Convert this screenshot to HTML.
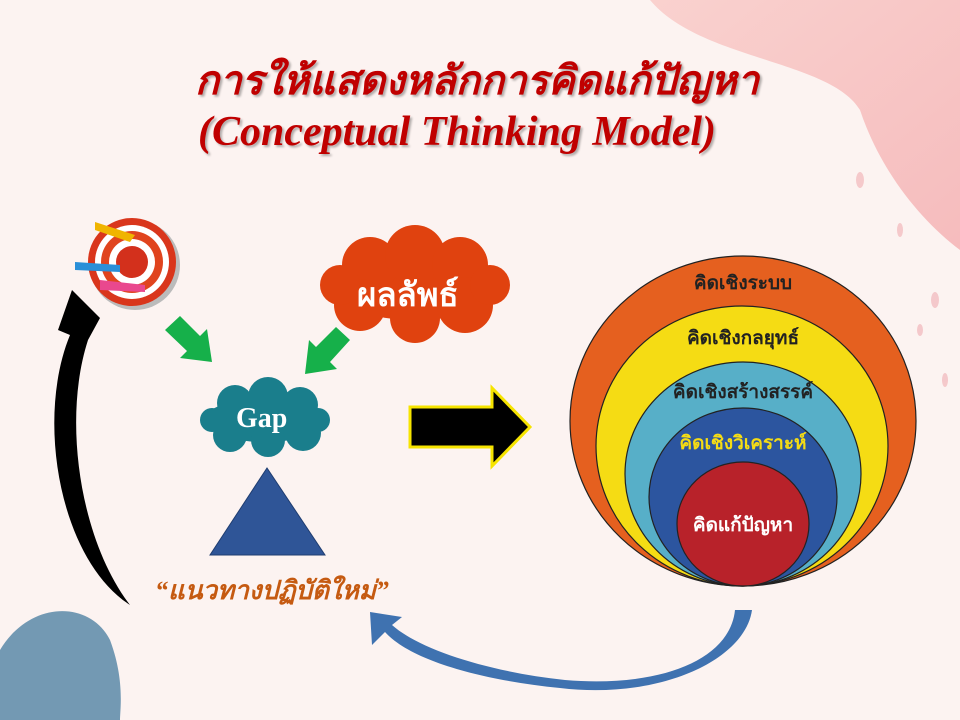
<!DOCTYPE html>
<html><head><meta charset="utf-8"><style>
html,body{margin:0;padding:0}
body{width:960px;height:720px;position:relative;overflow:hidden;background:#fcf3f1;font-family:"Liberation Serif","Noto Serif CJK SC",serif}
.t{position:absolute;white-space:nowrap}
</style></head><body>
<svg width="960" height="720" style="position:absolute;left:0;top:0">
<defs>
<linearGradient id="pk" x1="0" y1="0" x2="1" y2="1"><stop offset="0" stop-color="#f9c9c6"/><stop offset="1" stop-color="#f4aeb0"/></linearGradient>
</defs>
<path d="M650 0 L960 0 L960 250 C920 220 880 170 860 110 C830 60 700 60 650 0Z" fill="url(#pk)" opacity="0.8"/>
<path d="M0 650 C30 600 90 600 110 640 C125 680 120 710 120 720 L0 720Z" fill="#5a88a8" opacity="0.85"/>
<g fill="#f2b7bb" opacity="0.7">
<ellipse cx="860" cy="180" rx="4" ry="8"/><ellipse cx="900" cy="230" rx="3" ry="7"/><ellipse cx="935" cy="300" rx="4" ry="8"/><ellipse cx="945" cy="380" rx="3" ry="7"/><ellipse cx="920" cy="330" rx="3" ry="6"/>
</g>
<!-- target -->
<circle cx="135" cy="265" r="45" fill="#bbb"/>
<circle cx="132" cy="262" r="44" fill="#d9361c"/>
<circle cx="132" cy="262" r="37" fill="#fff"/>
<circle cx="132" cy="262" r="31" fill="#e0441e"/>
<circle cx="132" cy="262" r="23" fill="#fff"/>
<circle cx="132" cy="262" r="16" fill="#d3301c"/>
<path d="M95 222 L135 235 L130 242 L95 230Z" fill="#f0b400"/>
<path d="M75 262 L120 265 L120 272 L75 270Z" fill="#2a8fd8"/>
<path d="M100 280 L145 285 L145 292 L100 290Z" fill="#e9488e"/>
<!-- green arrows -->
<path d="M165 330 L180 316 L200 336 L207 329 L212 362 L180 358 L187 351Z" fill="#16b04a"/>
<path d="M350 340 L336 327 L316 347 L309 340 L305 374 L337 369 L330 362Z" fill="#16b04a"/>
<!-- clouds -->
<g fill="#e0420f">
<ellipse cx="415" cy="290" rx="80" ry="30"/><circle cx="370" cy="265" r="28"/><circle cx="415" cy="255" r="30"/><circle cx="460" cy="265" r="28"/><circle cx="360" cy="305" r="26"/><circle cx="415" cy="318" r="25"/><circle cx="465" cy="305" r="28"/><circle cx="490" cy="285" r="20"/><circle cx="340" cy="285" r="20"/>
</g>
<g fill="#1a7e8c">
<ellipse cx="265" cy="420" rx="60" ry="22"/><circle cx="235" cy="403" r="18"/><circle cx="268" cy="397" r="20"/><circle cx="300" cy="405" r="18"/><circle cx="230" cy="435" r="17"/><circle cx="268" cy="440" r="17"/><circle cx="303" cy="433" r="18"/><circle cx="318" cy="420" r="12"/><circle cx="212" cy="420" r="12"/>
</g>
<!-- triangle -->
<path d="M267 468 L325 555 L210 555Z" fill="#2f5597" stroke="#1f3d70" stroke-width="1"/>
<!-- block arrow -->
<path d="M410 407 L492 407 L492 388 L530 427 L492 466 L492 447 L410 447Z" fill="#000" stroke="#f6e400" stroke-width="3"/>
<!-- circles -->
<g stroke="#222" stroke-width="1.2">
<ellipse cx="743" cy="421" rx="173" ry="165" fill="#e5601f"/>
<ellipse cx="742" cy="446" rx="146" ry="140" fill="#f5dc14"/>
<ellipse cx="743" cy="474" rx="118" ry="112" fill="#57afc8"/>
<ellipse cx="743" cy="497" rx="94" ry="89" fill="#2c559f"/>
<ellipse cx="743" cy="524" rx="66" ry="62" fill="#b8222a"/>
</g>
<!-- black curved arrow -->
<path d="M130 605 C60 560 35 420 70 335 L58 330 L72 290 L100 318 L88 340 C62 420 80 540 130 605Z" fill="#000"/>
<!-- blue curved arrow -->
<path d="M735 610 L752 610 C745 660 660 700 560 688 C480 680 410 660 385 632 L372 645 L370 612 L402 617 L392 625 C420 650 490 672 565 680 C660 688 730 660 735 610Z" fill="#3f72b0"/>
</svg>
<div class="t" style="left:195px;top:48px;font-size:40px;font-weight:bold;font-style:italic;color:#c00000;text-shadow:2px 2px 2px rgba(0,0,0,0.3)">การให้แสดงหลักการคิดแก้ปัญหา</div>
<div class="t" style="left:198px;top:108px;font-size:42px;font-weight:bold;font-style:italic;color:#c00000;text-shadow:2px 2px 2px rgba(0,0,0,0.3)">(Conceptual Thinking Model)</div>
<div class="t" style="left:357px;top:268px;font-size:33px;font-weight:bold;color:#fff;font-family:'Liberation Sans','Noto Sans CJK SC',sans-serif">ผลลัพธ์</div>
<div class="t" style="left:236px;top:403px;font-size:28px;font-weight:bold;color:#fff">Gap</div>
<div class="t" style="left:155px;top:570px;font-size:26px;font-weight:bold;font-style:italic;color:#c55a11;font-family:'Liberation Serif','Noto Sans CJK SC',serif">“แนวทางปฏิบัติใหม่”</div>
<div style="position:absolute;left:643px;width:200px;text-align:center;font-family:'Liberation Sans','Noto Sans CJK SC',sans-serif;font-size:19px;font-weight:bold">
<div style="position:absolute;top:268px;width:200px;color:#222">คิดเชิงระบบ</div>
<div style="position:absolute;top:323px;width:200px;color:#222">คิดเชิงกลยุทธ์</div>
<div style="position:absolute;top:377px;width:200px;color:#222">คิดเชิงสร้างสรรค์</div>
<div style="position:absolute;top:428px;width:200px;color:#f5dc14">คิดเชิงวิเคราะห์</div>
<div style="position:absolute;top:510px;width:200px;color:#fff">คิดแก้ปัญหา</div>
</div>
</body></html>
